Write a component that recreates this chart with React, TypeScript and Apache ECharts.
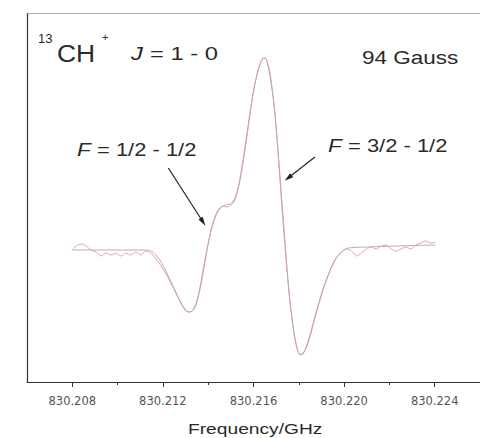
import React, { useEffect, useRef } from "react";
import * as echarts from "echarts";

// Measured trace (noisy) : frequency in GHz, signal in arbitrary units
const traceFreq = [
  830.208, 830.20817, 830.20839, 830.20861, 830.20883, 830.20905, 830.20927, 830.20949,
  830.20971, 830.20992, 830.21014, 830.21036, 830.21058, 830.2108, 830.21102, 830.21124,
  830.21145, 830.21167, 830.21189, 830.21211, 830.21233, 830.21255, 830.21277, 830.21294,
  830.21312, 830.21329, 830.21347, 830.21364, 830.21381, 830.21399, 830.21416, 830.21434,
  830.21451, 830.21469, 830.21482, 830.21495, 830.21513, 830.21526, 830.21539, 830.21552,
  830.21565, 830.21578, 830.21591, 830.21604, 830.21618, 830.21631, 830.21644, 830.21653,
  830.21661, 830.21674, 830.21688, 830.21701, 830.21714, 830.21727, 830.2174, 830.21753,
  830.21766, 830.21779, 830.21792, 830.21806, 830.21819, 830.21832, 830.21849, 830.21867,
  830.21884, 830.21902, 830.21924, 830.21946, 830.21967, 830.21989, 830.22011, 830.22033,
  830.22055, 830.22077, 830.22098, 830.2212, 830.22142, 830.22164, 830.22186, 830.22208,
  830.2223, 830.22251, 830.22273, 830.22295, 830.22317, 830.22339, 830.22361, 830.22383,
  830.22404,
];
const traceSignal = [
  0.0, 0.04, 0.06, 0.04, 0.0, -0.02, -0.06, -0.03,
  -0.05, -0.03, -0.06, -0.03, -0.05, -0.02, -0.05, -0.01,
  -0.03, -0.08, -0.15, -0.23, -0.32, -0.42, -0.52, -0.59,
  -0.62, -0.61, -0.53, -0.37, -0.15, 0.05, 0.22, 0.34,
  0.41, 0.44, 0.43, 0.44, 0.48, 0.56, 0.7, 0.88,
  1.07, 1.27, 1.47, 1.64, 1.77, 1.87, 1.92, 1.92,
  1.87, 1.72, 1.5, 1.2, 0.8, 0.38, 0.0, -0.33,
  -0.62, -0.83, -0.98, -1.05, -1.04, -0.97, -0.85, -0.7,
  -0.56, -0.42, -0.28, -0.16, -0.07, -0.02, 0.01, -0.01,
  -0.06, -0.03, 0.01, 0.03, 0.01, 0.04, 0.05, 0.01,
  -0.01, 0.01, 0.03, 0.01, 0.05, 0.07, 0.09, 0.07,
  0.08,
];

// Fitted profile (smooth)
const fitFreq = [
  830.208, 830.20918, 830.21049, 830.21128, 830.21172, 830.21215, 830.21259, 830.21294,
  830.21316, 830.21338, 830.2136, 830.21381, 830.21403, 830.21425, 830.21451, 830.21478,
  830.21504, 830.2153, 830.21557, 830.21583, 830.21609, 830.21631, 830.21648, 830.21666,
  830.21683, 830.21701, 830.21718, 830.21736, 830.21753, 830.21771, 830.21788, 830.21806,
  830.21823, 830.21845, 830.21871, 830.21898, 830.21924, 830.21954, 830.21985, 830.2202,
  830.22098, 830.2223, 830.22404,
];
const fitSignal = [
  0.0, 0.0, 0.0, 0.0, -0.06, -0.22, -0.43, -0.58,
  -0.62, -0.59, -0.43, -0.18, 0.1, 0.3, 0.42, 0.45,
  0.47, 0.6, 0.92, 1.33, 1.69, 1.87, 1.92, 1.84,
  1.6, 1.2, 0.7, 0.18, -0.32, -0.7, -0.94, -1.04,
  -1.02, -0.9, -0.68, -0.47, -0.29, -0.13, -0.03, 0.02,
  0.03, 0.04, 0.05,
];

const majorTicks = [830.208, 830.212, 830.216, 830.22, 830.224];
const minorTicks = [830.21, 830.214, 830.218, 830.222];

const arrowLeft = [[830.21224, 0.82], [830.21377, 0.28]];
const arrowRight = [[830.21871, 0.93], [830.21753, 0.72]];

export default function App() {
  const ref = useRef<HTMLDivElement>(null);
  useEffect(() => {
    if (!ref.current) return;
    const chart = echarts.init(ref.current, null, { renderer: "svg" });
    const txt = "#2a2a2a";
    const sansFont = "Liberation Sans, Arial, sans-serif";
    const textEl = (text: string, x: number, y: number, size: number, sx: number, italic = false) => ({
      type: "text",
      x,
      y,
      scaleX: sx,
      style: {
        text,
        fill: txt,
        font: `${italic ? "italic " : ""}${size}px ${sansFont}`,
        textAlign: "left",
        textVerticalAlign: "middle",
      },
    });
    chart.setOption({
      animation: false,
      backgroundColor: "#ffffff",
      grid: { left: 27, top: 13, width: 457.5, height: 369, containLabel: false },
      xAxis: [
        {
          type: "value",
          min: 830.206,
          max: 830.226,
          position: "bottom",
          axisLine: { show: true, onZero: false, lineStyle: { color: "#333", width: 1.2 } },
          axisTick: { show: true, inside: false, length: 5, customValues: majorTicks, lineStyle: { color: "#333" } },
          axisLabel: {
            show: true,
            customValues: majorTicks,
            formatter: (v: number) => v.toFixed(3),
            fontFamily: "DejaVu Sans",
            fontSize: 11.5,
            color: "#555",
            margin: 13,
          },
          splitLine: { show: false },
        },
        {
          type: "value",
          min: 830.206,
          max: 830.226,
          position: "bottom",
          axisLine: { show: false, onZero: false },
          axisTick: { show: true, inside: false, length: 3, customValues: minorTicks, lineStyle: { color: "#333" } },
          axisLabel: { show: false },
          splitLine: { show: false },
        },
        {
          type: "value",
          min: 830.206,
          max: 830.226,
          position: "top",
          axisLine: { show: true, onZero: false, lineStyle: { color: "#aaa", width: 1 } },
          axisTick: { show: false },
          axisLabel: { show: false },
          splitLine: { show: false },
        },
      ],
      yAxis: {
        type: "value",
        min: -1.32,
        max: 2.37,
        axisLine: { show: true, onZero: false, lineStyle: { color: "#333", width: 1.2 } },
        axisTick: { show: false },
        axisLabel: { show: false },
        splitLine: { show: false },
      },
      series: [
        {
          type: "line",
          xAxisIndex: 0,
          data: traceFreq.map((f, i) => [f, traceSignal[i]]),
          showSymbol: false,
          smooth: 0.3,
          lineStyle: { color: "#e2a3b0", width: 1 },
          z: 2,
        },
        {
          type: "line",
          xAxisIndex: 0,
          data: fitFreq.map((f, i) => [f, fitSignal[i]]),
          showSymbol: false,
          smooth: 0.4,
          lineStyle: { color: "#c0a8b0", width: 1 },
          z: 3,
          markLine: {
            silent: true,
            symbol: ["none", "triangle"],
            symbolSize: [5, 9],
            label: { show: false },
            lineStyle: { color: "#222", width: 1.2, type: "solid" },
            data: [
              [{ coord: arrowLeft[0] }, { coord: arrowLeft[1] }],
              [{ coord: arrowRight[0] }, { coord: arrowRight[1] }],
            ],
          },
        },
      ],
      graphic: [
        textEl("13", 38, 38, 13, 1.0),
        textEl("CH", 57, 53, 24, 1.1),
        textEl("+", 102, 37, 11, 1.0),
        textEl("J", 131, 54, 19, 1.25, true),
        textEl("= 1 - 0", 150, 54, 19, 1.25),
        textEl("94 Gauss", 362, 58, 18, 1.25),
        textEl("F", 77, 150, 18, 1.25, true),
        textEl("= 1/2 - 1/2", 97, 150, 18, 1.22),
        textEl("F", 328, 146, 18, 1.25, true),
        textEl("= 3/2 - 1/2", 348, 146, 18, 1.22),
        textEl("Frequency/GHz", 188, 429, 15, 1.28),
      ],
    });
    return () => chart.dispose();
  }, []);
  return (
    <div
      ref={ref}
      style={{ position: "absolute", left: 0, top: 0, width: 480, height: 438, overflow: "hidden" }}
    />
  );
}
